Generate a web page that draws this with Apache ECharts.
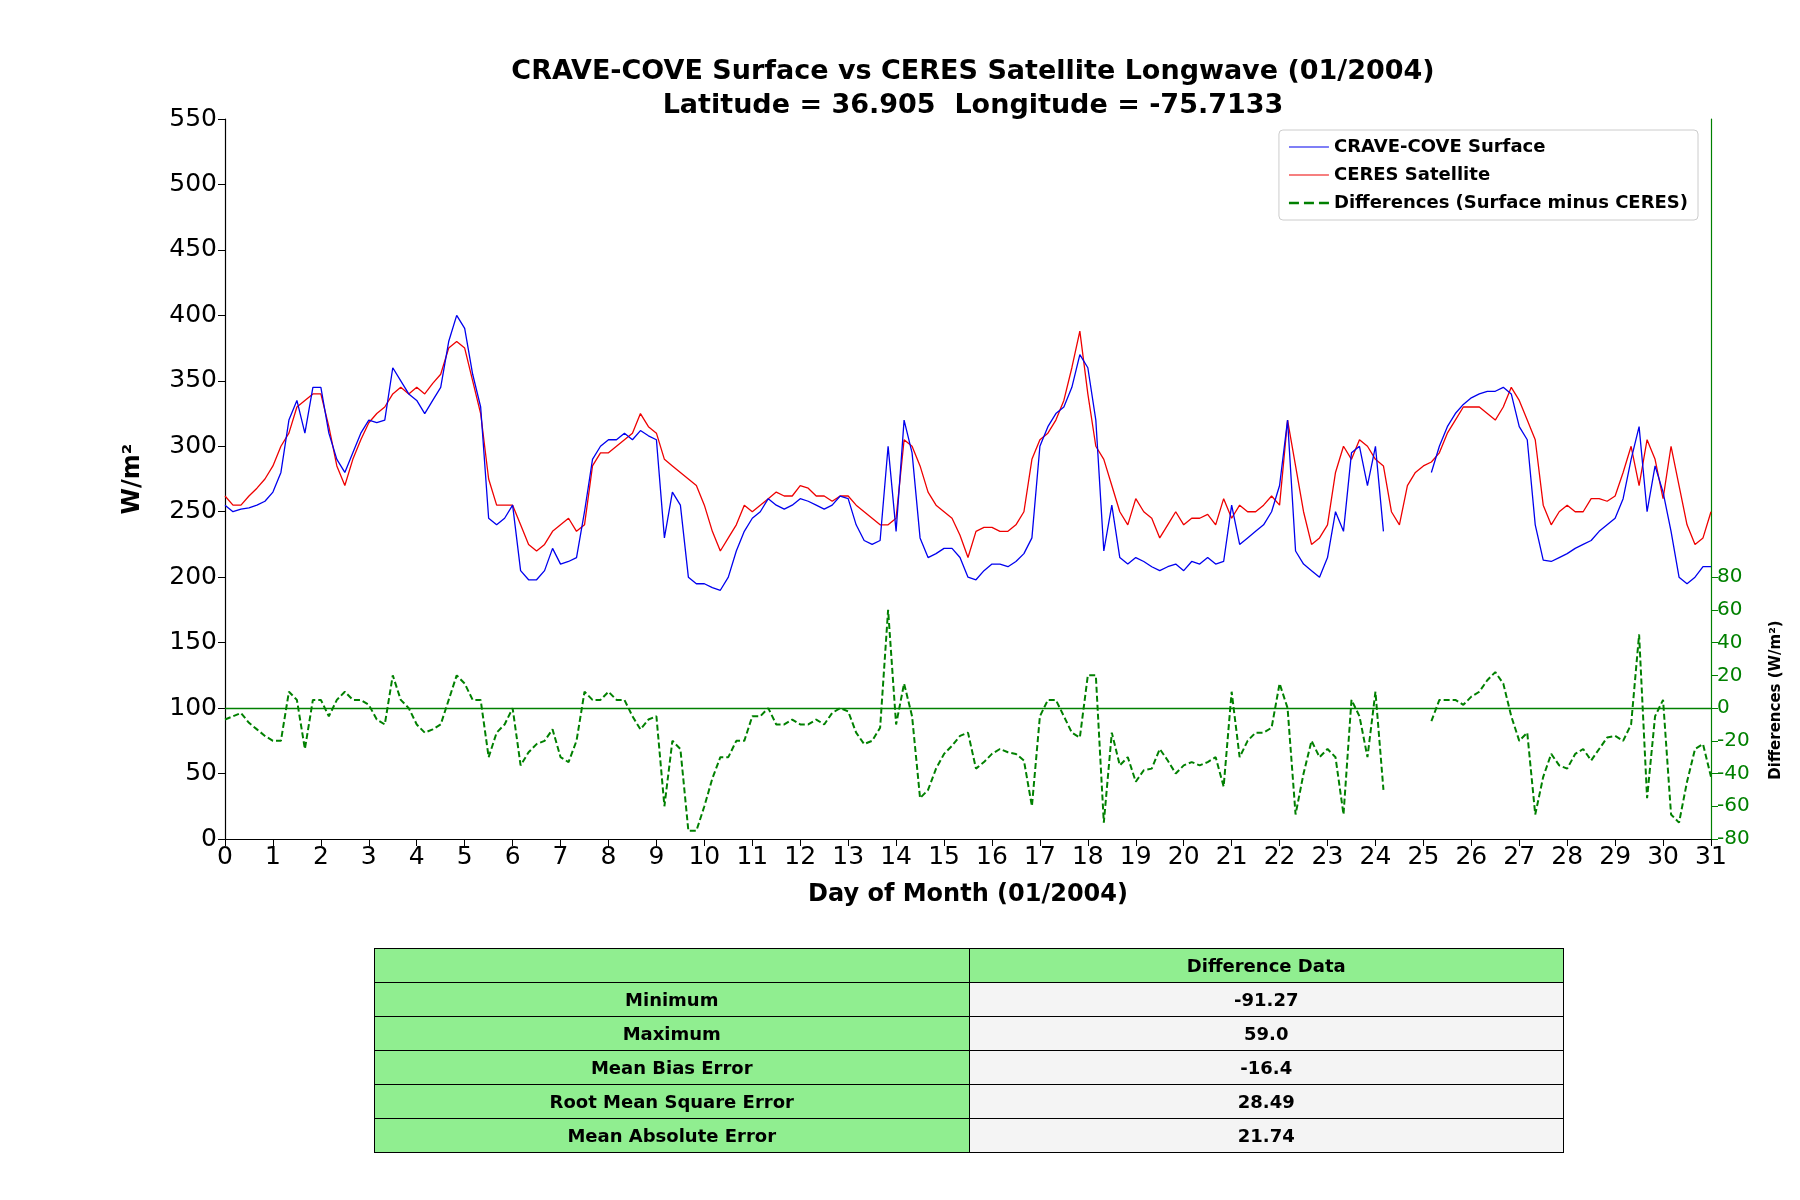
<!DOCTYPE html>
<html><head><meta charset="utf-8">
<script src="https://cdn.jsdelivr.net/npm/echarts@6/dist/echarts.min.js"></script>
<style>
body{margin:0;background:#fff;font-family:"DejaVu Sans",sans-serif}
#c{width:1800px;height:1200px;position:absolute;left:0;top:0}
table{position:absolute;left:374px;top:948px;width:1190px;border-collapse:collapse;font-weight:bold;font-size:18px;font-family:"DejaVu Sans",sans-serif}
td{border:1.5px solid #000;height:33px;padding:0;text-align:center;width:50%}
td.g{background:#90ee90}td.w{background:#f4f4f4}
</style></head><body>
<div id="c"></div>
<table id="t"></table>
<script>
const stepsPerDay = 6;
const surface = [
255,250,252,253,255,258,
265,280,320,335,310,345,
345,310,290,280,295,310,
320,318,320,360,350,340,
335,325,335,345,380,400,
390,355,330,245,240,245,
255,205,198,198,205,222,
210,212,215,250,290,300,
305,305,310,305,312,308,
305,230,265,255,200,195,
195,192,190,200,220,235,
245,250,260,255,252,255,
260,258,255,252,255,262,
260,240,228,225,228,300,
235,320,295,230,215,218,
222,222,215,200,198,205,
210,210,208,212,218,230,
300,315,325,330,345,370,
360,320,220,255,215,210,
215,212,208,205,208,210,
205,212,210,215,210,212,
255,225,230,235,240,250,
270,320,220,210,205,200,
215,250,235,295,300,270,
300,235,null,null,null,null,
null,280,300,315,325,332,
337,340,342,342,345,340,
315,305,240,213,212,215,
218,222,225,228,235,240,
245,260,290,315,250,285,
265,235,200,195,200,208,
208];
const ceres = [
262,255,255,262,268,275,
285,300,310,330,335,340,
340,315,285,270,290,305,
318,325,330,340,345,340,
345,340,348,355,375,380,
375,350,325,275,255,255,
255,240,225,220,225,235,
240,245,235,240,285,295,
295,300,305,310,325,315,
310,290,285,280,275,270,
255,235,220,230,240,255,
250,255,260,265,262,262,
270,268,262,262,258,262,
262,255,250,245,240,240,
245,305,300,285,265,255,
250,245,232,215,235,238,
238,235,235,240,250,290,
305,310,320,335,360,388,
340,300,290,270,250,240,
260,250,245,230,240,250,
240,245,245,248,240,260,
245,255,250,250,255,262,
255,320,285,250,225,230,
240,280,300,290,305,300,
290,285,250,240,270,280,
285,288,295,310,320,330,
330,330,325,320,330,345,
335,320,305,255,240,250,
255,250,250,260,260,258,
262,280,300,270,305,290,
260,300,270,240,225,230,
250];
const diffTicks = [-80,-60,-40,-20,0,20,40,60,80];
const statLabels = ["Minimum","Maximum","Mean Bias Error","Root Mean Square Error","Mean Absolute Error"];
const statValues = ["-91.27","59.0","-16.4","28.49","21.74"];

const t = i => i / stepsPerDay;
const sData = surface.map((v,i)=>[t(i),v]);
const cData = ceres.map((v,i)=>[t(i),v]);
const dData = surface.map((v,i)=>[t(i), (v==null||ceres[i]==null)?null:v-ceres[i]]);

let html = '<tr><td class="g"></td><td class="g">Difference Data</td></tr>';
statLabels.forEach((l,i)=>{html+=`<tr><td class="g">${l}</td><td class="w">${statValues[i]}</td></tr>`;});
document.getElementById('t').innerHTML = html;

const chart = echarts.init(document.getElementById('c'));
const F = '"DejaVu Sans", sans-serif';
chart.setOption({
  animation:false,
  textStyle:{fontFamily:F},
  title:{text:'CRAVE-COVE Surface vs CERES Satellite Longwave (01/2004)\nLatitude = 36.905  Longitude = -75.7133',left:968,textAlign:'center',top:50,
    textStyle:{fontSize:27,fontWeight:'bold',color:'#000',lineHeight:34,fontFamily:F}},
  graphic:[{type:'text',x:1776,y:700,rotation:Math.PI/2,
    style:{text:'Differences (W/m²)',fontSize:15,fontWeight:'bold',fill:'#000',textAlign:'center',textVerticalAlign:'middle',fontFamily:F}}],
  legend:{right:102,top:130,orient:'vertical',itemWidth:40,itemHeight:12,itemGap:10,
    backgroundColor:'#fff',borderColor:'#ccc',borderWidth:1,borderRadius:4,padding:[8,10],
    textStyle:{fontSize:18,fontWeight:'bold',color:'#000',fontFamily:F},
    data:[{name:'CRAVE-COVE Surface',icon:'path://M0,5L40,5L40,6L0,6Z'},{name:'CERES Satellite',icon:'path://M0,5L40,5L40,6L0,6Z'},{name:'Differences (Surface minus CERES)',icon:'path://M0,5L8,5L8,7L0,7ZM12,5L20,5L20,7L12,7ZM24,5L32,5L32,7L24,7Z'}]},
  grid:{left:225,right:89,top:119,height:720},
  xAxis:{type:'value',min:0,max:31,interval:1,name:'Day of Month (01/2004)',nameLocation:'middle',nameGap:44,
    nameTextStyle:{fontSize:24,fontWeight:'bold',color:'#000',fontFamily:F},
    axisLine:{lineStyle:{color:'#000',width:1.2}},axisTick:{lineStyle:{color:'#000'},length:7},
    axisLabel:{fontSize:25,color:'#000',margin:6},splitLine:{show:false}},
  yAxis:[
    {type:'value',min:0,max:550,interval:50,name:'W/m²',nameLocation:'middle',nameGap:80,nameRotate:90,
     nameTextStyle:{fontSize:24,fontWeight:'bold',color:'#000',fontFamily:F},
     axisLine:{show:true,lineStyle:{color:'#000',width:1.2}},axisTick:{show:true,length:7,lineStyle:{color:'#000'}},
     axisLabel:{fontSize:25,color:'#000',margin:8},splitLine:{show:false}},
    {type:'value',position:'right',min:-80,max:360,interval:20,
     axisLine:{show:true,lineStyle:{color:'green',width:1.2}},
     axisTick:{show:true,length:7,lineStyle:{color:'green'},customValues:diffTicks},
     axisLabel:{fontSize:20,color:'green',margin:6,customValues:diffTicks},splitLine:{show:false}}
  ],
  series:[
    {name:'CRAVE-COVE Surface',type:'line',data:sData,showSymbol:false,connectNulls:false,color:'#0000ee',lineStyle:{width:1.3,color:'#0000ee'},z:3},
    {name:'CERES Satellite',type:'line',data:cData,showSymbol:false,color:'#ee0000',lineStyle:{width:1.3,color:'#ee0000'},z:2},
    {name:'Differences (Surface minus CERES)',type:'line',yAxisIndex:1,data:dData,showSymbol:false,color:'green',
     lineStyle:{width:2,type:[6,3],color:'green'},
     markLine:{symbol:'none',silent:true,label:{show:false},lineStyle:{color:'green',type:'solid',width:1.3},data:[{yAxis:0}]}}
  ]
});
</script></body></html>
